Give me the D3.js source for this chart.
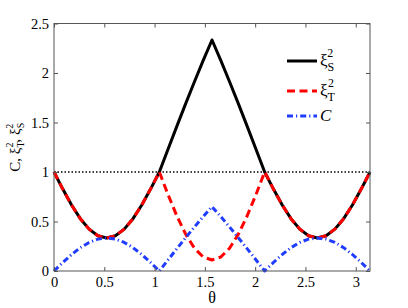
<!DOCTYPE html>
<html>
<head>
<meta charset="utf-8">
<script src="https://cdn.jsdelivr.net/npm/d3@7"></script>
<style>
  body { margin: 0; background: #fff; }
  svg text { font-family: 'Liberation Serif', serif; fill: #000; }
</style>
</head>
<body>
<svg id="chart" width="408" height="308"></svg>
<script>
// theta sampled every 5 degrees, 0..pi
var thetaSteps = d3.range(0, 37);
var theta = thetaSteps.map(function(k) { return k * Math.PI / 36; });

// values (symmetric about pi/2)
var xiS = [1, 0.8275, 0.6667, 0.5286, 0.4227, 0.3561, 0.3333, 0.3561, 0.4227, 0.5286, 0.6667, 0.8275,
           1, 1.2324, 1.4631, 1.6902, 1.9121, 2.1270, 2.3333, 2.1270, 1.9121, 1.6902, 1.4631, 1.2324,
           1, 0.8275, 0.6667, 0.5286, 0.4227, 0.3561, 0.3333, 0.3561, 0.4227, 0.5286, 0.6667, 0.8275, 1];
var xiT = [1, 0.8275, 0.6667, 0.5286, 0.4227, 0.3561, 0.3333, 0.3561, 0.4227, 0.5286, 0.6667, 0.8275,
           1, 0.7699, 0.5556, 0.3715, 0.2302, 0.1414, 0.1111, 0.1414, 0.2302, 0.3715, 0.5556, 0.7699,
           1, 0.8275, 0.6667, 0.5286, 0.4227, 0.3561, 0.3333, 0.3561, 0.4227, 0.5286, 0.6667, 0.8275, 1];
var conc = [0, 0.0863, 0.1667, 0.2357, 0.2887, 0.3220, 0.3333, 0.3220, 0.2887, 0.2357, 0.1667, 0.0863,
            0, 0.1133, 0.2257, 0.3365, 0.4446, 0.5494, 0.65, 0.5494, 0.4446, 0.3365, 0.2257, 0.1133,
            0, 0.0863, 0.1667, 0.2357, 0.2887, 0.3220, 0.3333, 0.3220, 0.2887, 0.2357, 0.1667, 0.0863, 0];

var xTicks = [0, 0.5, 1, 1.5, 2, 2.5, 3];
var yTicks = [0, 0.5, 1, 1.5, 2, 2.5];
var refLevel = [1, 1];

var serif = "'Liberation Serif', serif";
var svg = d3.select("#chart");
var margin = {left: 54, right: 38, top: 23.5, bottom: 37};
var W = 408, H = 308;

var x = d3.scaleLinear().domain([0, Math.PI]).range([margin.left, W - margin.right]);
var y = d3.scaleLinear().domain([0, 2.5]).range([H - margin.bottom, margin.top]);

var line = d3.line()
  .x(function(d) { return x(d[0]); })
  .y(function(d) { return y(d[1]); });

function pairs(vals) {
  return theta.map(function(t, i) { return [t, vals[i]]; });
}

var plot = svg.append("g");

// dotted reference at 1
plot.append("path")
  .attr("d", line([[0, refLevel[0]], [Math.PI, refLevel[1]]]))
  .attr("fill", "none")
  .attr("stroke", "#000")
  .attr("stroke-width", 1.5)
  .attr("stroke-dasharray", "1.5,2");

var series = [
  {vals: xiS, color: "#000", dash: null},
  {vals: xiT, color: "#ff0000", dash: "8,4.5"},
  {vals: conc, color: "#1f3cff", dash: "6,3,1.2,3"}
];

series.forEach(function(s) {
  plot.append("path")
    .attr("d", line(pairs(s.vals)))
    .attr("fill", "none")
    .attr("stroke", s.color)
    .attr("stroke-width", 3)
    .attr("stroke-linejoin", "round")
    .attr("stroke-dasharray", s.dash);
});

// axes box, MATLAB style with inward ticks
var axisColor = "#555";
svg.append("rect")
  .attr("x", x(0)).attr("y", y(2.5))
  .attr("width", x(Math.PI) - x(0)).attr("height", y(0) - y(2.5))
  .attr("fill", "none").attr("stroke", axisColor).attr("stroke-width", 1);

var xb = d3.axisBottom(x).tickValues(xTicks).tickSizeInner(-4).tickSizeOuter(0).tickPadding(6).tickFormat(d3.format("~g"));
var xt = d3.axisTop(x).tickValues(xTicks).tickSizeInner(-4).tickSizeOuter(0).tickFormat("");
var yl = d3.axisLeft(y).tickValues(yTicks).tickSizeInner(-4).tickSizeOuter(0).tickPadding(5).tickFormat(d3.format("~g"));
var yr = d3.axisRight(y).tickValues(yTicks).tickSizeInner(-4).tickSizeOuter(0).tickFormat("");

[[xb, "translate(0," + y(0) + ")"], [xt, "translate(0," + y(2.5) + ")"],
 [yl, "translate(" + x(0) + ",0)"], [yr, "translate(" + x(Math.PI) + ",0)"]].forEach(function(a) {
  var g = svg.append("g").attr("transform", a[1]).call(a[0]);
  g.attr("font-family", null).attr("font-size", null);
  g.select(".domain").remove();
  g.selectAll("line").attr("stroke", axisColor);
  g.selectAll("text").style("font-family", serif).style("font-size", "14.5px").attr("fill", "#000");
});

// axis labels
svg.append("text")
  .attr("x", (x(0) + x(Math.PI)) / 2).attr("y", 303)
  .attr("text-anchor", "middle").style("font-family", serif).style("font-size", "16px")
  .text("θ");

var ylab = svg.append("text")
  .attr("transform", "translate(20," + ((y(0) + y(2.5)) / 2) + ") rotate(-90)")
  .attr("text-anchor", "middle").style("font-family", serif).style("font-size", "15px");
ylab.append("tspan").text("C, ξ");
ylab.append("tspan").attr("dy", 4).style("font-size", "10px").text("T");
ylab.append("tspan").attr("dx", -6).attr("dy", -11).style("font-size", "10px").text("2");
ylab.append("tspan").attr("dy", 7).text(", ξ");
ylab.append("tspan").attr("dy", 4).style("font-size", "10px").text("S");
ylab.append("tspan").attr("dx", -6).attr("dy", -11).style("font-size", "10px").text("2");

// legend
var legendItems = [
  {s: series[0], ly: 61, sub: "S"},
  {s: series[1], ly: 91, sub: "T"},
  {s: series[2], ly: 116, sub: null}
];
legendItems.forEach(function(it) {
  svg.append("line")
    .attr("x1", 287).attr("x2", 317).attr("y1", it.ly).attr("y2", it.ly)
    .attr("stroke", it.s.color).attr("stroke-width", 3)
    .attr("stroke-dasharray", it.s.dash);
  var t = svg.append("text").attr("x", 320).attr("y", it.ly + 5)
    .style("font-family", serif).style("font-size", "17px");
  if (it.sub) {
    t.append("tspan").text("ξ");
    t.append("tspan").attr("dy", 5).style("font-size", "12px").text(it.sub);
    t.append("tspan").attr("dx", -7).attr("dy", -14).style("font-size", "12px").text("2");
  } else {
    t.style("font-style", "italic").text("C");
  }
});
</script>
</body>
</html>
